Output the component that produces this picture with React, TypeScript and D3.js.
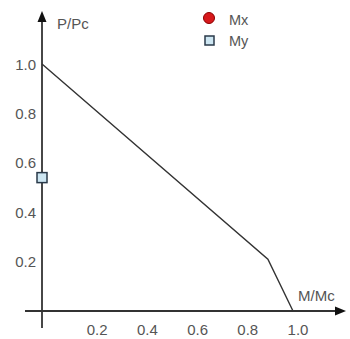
import React from "react";
import * as d3 from "d3";

const curveX = [0, 0.9, 1.0];
const curveY = [1.0, 0.21, 0.0];
const myX = [0];
const myY = [0.54];
const mxX: number[] = [];
const mxY: number[] = [];
const xTicks = [0.2, 0.4, 0.6, 0.8, 1.0];
const yTicks = [0.2, 0.4, 0.6, 0.8, 1.0];
const legendLabels = ["Mx", "My"];

export default function App() {
  const W = 350, H = 339;
  const x = d3.scaleLinear().domain([0, 1]).range([42, 293]);
  const y = d3.scaleLinear().domain([0, 1]).range([311, 64]);
  const line = d3.line<number>().x((_, i) => x(curveX[i])).y((_, i) => y(curveY[i]));
  const axisColor = "#333";
  const textColor = "#555";
  const font = "Liberation Sans, Arial, sans-serif";
  const fs = 15;
  const x0 = x(0), y0 = y(0);
  return (
    <svg width={W} height={H} style={{ position: "absolute", left: 0, top: 0, background: "#fff" }}>
      {/* axes */}
      <line x1={x0} y1={328} x2={x0} y2={20} stroke={axisColor} strokeWidth={1.8} />
      <path d={`M${x0},11 L${x0 - 4.5},22 L${x0 + 4.5},22 Z`} fill="#111" />
      <line x1={25} y1={y0} x2={336} y2={y0} stroke={axisColor} strokeWidth={1.8} />
      <path d={`M346,${y0} L335,${y0 - 4.5} L335,${y0 + 4.5} Z`} fill="#111" />
      {/* curve */}
      <path d={line(curveX) || ""} fill="none" stroke="#333" strokeWidth={1.4} />
      {/* tick labels */}
      {xTicks.map((t) => (
        <text key={"x" + t} x={x(t) + 5} y={335} fontSize={fs} fontFamily={font} fill={textColor} textAnchor="middle">
          {t.toFixed(1)}
        </text>
      ))}
      {yTicks.map((t) => (
        <text key={"y" + t} x={36} y={y(t) + 5.5} fontSize={fs} fontFamily={font} fill={textColor} textAnchor="end">
          {t.toFixed(1)}
        </text>
      ))}
      {/* axis titles */}
      <text x={57} y={29} fontSize={fs} fontFamily={font} fill={textColor}>P/Pc</text>
      <text x={298} y={301} fontSize={fs} fontFamily={font} fill={textColor}>M/Mc</text>
      {/* points */}
      {mxX.map((v, i) => (
        <circle key={"mx" + i} cx={x(v)} cy={y(mxY[i])} r={5} fill="#d7191c" stroke="#8b0000" />
      ))}
      {myX.map((v, i) => (
        <rect key={"my" + i} x={x(v) - 5} y={y(myY[i]) - 5} width={10} height={10} fill="#cde6f2" stroke="#2a3a4a" strokeWidth={1.5} />
      ))}
      {/* legend */}
      <circle cx={209} cy={18} r={5.5} fill="#d7191c" stroke="#8b0000" strokeWidth={1} />
      <text x={229} y={25} fontSize={14.5} fontFamily={font} fill={textColor}>{legendLabels[0]}</text>
      <rect x={205} y={36} width={9} height={9} fill="#cde6f2" stroke="#2a3a4a" strokeWidth={1.5} />
      <text x={229} y={46} fontSize={14.5} fontFamily={font} fill={textColor}>{legendLabels[1]}</text>
    </svg>
  );
}
